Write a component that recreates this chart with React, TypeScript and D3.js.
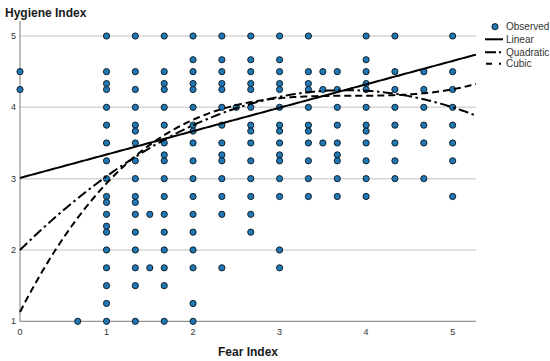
import { useEffect } from 'react';
import * as d3 from 'd3';

// Fear index columns and the observed hygiene index values found in each
const fearLevels = [0, 0.667, 1, 1.333, 1.5, 1.667, 2, 2.333, 2.5, 2.667, 3, 3.333, 3.5, 3.667, 4, 4.333, 4.667, 5];
const hygieneAt0 = [4.5, 4.25];
const hygieneAt067 = [1];
const hygieneAt1 = [5, 4.5, 4.333, 4.25, 4, 3.75, 3.5, 3.25, 3, 2.75, 2.667, 2.5, 2.333, 2.25, 2, 1.75, 1.5, 1.25, 1];
const hygieneAt133 = [5, 4.5, 4.25, 4, 3.75, 3.667, 3.5, 3.25, 3, 2.75, 2.667, 2.5, 2.25, 2, 1.75, 1.5, 1];
const hygieneAt15 = [2.5, 1.75];
const hygieneAt167 = [5, 4.5, 4.333, 4.25, 4, 3.75, 3.5, 3.333, 3.25, 3, 2.75, 2.5, 2.25, 2, 1.75, 1.5, 1];
const hygieneAt2 = [5, 4.667, 4.5, 4.333, 4.25, 4, 3.75, 3.667, 3.5, 3.25, 3, 2.75, 2.5, 2.25, 2, 1.75, 1.25, 1];
const hygieneAt233 = [5, 4.667, 4.5, 4.333, 4.25, 4, 3.75, 3.5, 3.333, 3.25, 3, 2.75, 2.5, 1.75];
const hygieneAt25 = [4];
const hygieneAt267 = [5, 4.667, 4.5, 4.333, 4.25, 4, 3.75, 3.667, 3.5, 3.25, 3, 2.75, 2.5, 2.25];
const hygieneAt3 = [5, 4.667, 4.5, 4.333, 4.25, 4, 3.75, 3.667, 3.5, 3.333, 3.25, 3, 2.75, 2, 1.75];
const hygieneAt333 = [5, 4.5, 4.333, 4.25, 4, 3.75, 3.667, 3.5, 3.25, 3, 2.75];
const hygieneAt35 = [4.5, 4.25, 3.5];
const hygieneAt367 = [4.5, 4.25, 4, 3.75, 3.5, 3.333, 3.25, 3, 2.75];
const hygieneAt4 = [5, 4.667, 4.5, 4.333, 4.25, 4, 3.75, 3.667, 3.5, 3.25, 3, 2.75];
const hygieneAt433 = [5, 4.5, 4.25, 4, 3.75, 3.5, 3.25, 3];
const hygieneAt467 = [4.5, 4.25, 4, 3.75, 3.5, 3];
const hygieneAt5 = [5, 4.5, 4.25, 4, 3.75, 3.5, 3.25, 2.75];

const hygieneColumns = [
  hygieneAt0, hygieneAt067, hygieneAt1, hygieneAt133, hygieneAt15, hygieneAt167,
  hygieneAt2, hygieneAt233, hygieneAt25, hygieneAt267, hygieneAt3, hygieneAt333,
  hygieneAt35, hygieneAt367, hygieneAt4, hygieneAt433, hygieneAt467, hygieneAt5,
];

// fitted model coefficients (constant, x, x^2, x^3)
const linearCoef = [3.01, 0.328];
const quadraticCoef = [2.0, 1.19, -0.158];
const cubicCoef = [1.13, 2.367, -0.617, 0.0537];

const xTicks = [0, 1, 2, 3, 4, 5];
const yTicks = [1, 2, 3, 4, 5];
const legendLabels = ['Observed', 'Linear', 'Quadratic', 'Cubic'];

const W = 550;
const H = 361;
const FONT = '"Liberation Sans", Arial, sans-serif';

const poly = (c: number[]) => (x: number) => c.reduce((s, k, i) => s + k * Math.pow(x, i), 0);

export default function App() {
  useEffect(() => {
    document.body.style.margin = '0';
  }, []);

  const x = d3.scaleLinear().domain([0, 5.27]).range([20, 476]);
  const y = d3.scaleLinear().domain([1, 5.21]).range([321.3, 21]);

  const points = fearLevels.flatMap((f, i) => hygieneColumns[i].map(h => ({ f, h })));

  const samples = d3.range(0, 5.27, 0.02).concat([5.27]);
  const line = (fn: (v: number) => number) =>
    d3.line<number>().x(d => x(d)).y(d => y(fn(d)))(samples) || '';

  const lines = [
    { coef: linearCoef, dash: null },
    { coef: quadraticCoef, dash: '10,3.5,2.5,3.5' },
    { coef: cubicCoef, dash: '7,4' },
  ];

  return (
    <svg width={W} height={H} style={{ position: 'absolute', left: 0, top: 0, background: '#fff' }} fontFamily={FONT}>
      <text x={5} y={17} fontSize={12} fontWeight="bold" fill="#1a1a1a">Hygiene Index</text>

      {/* gridlines */}
      {yTicks.filter(t => t > 1).map(t => (
        <line key={t} x1={x(0)} x2={x(5.27)} y1={y(t)} y2={y(t)} stroke="#d6d6d6" strokeWidth={1.5} />
      ))}

      {/* axes */}
      <line x1={x(0)} x2={x(0)} y1={y(5.21)} y2={y(1)} stroke="#7a7a7a" strokeWidth={1} />
      <line x1={x(0)} x2={x(5.27)} y1={y(1)} y2={y(1)} stroke="#7a7a7a" strokeWidth={1} />

      {yTicks.map(t => (
        <text key={t} x={16} y={y(t)} dy="0.35em" textAnchor="end" fontSize={9} fill="#333">{t}</text>
      ))}
      {xTicks.map(t => (
        <text key={t} x={x(t)} y={332} dy="0.35em" textAnchor="middle" fontSize={9} fill="#333">{t}</text>
      ))}

      <text x={248} y={356} textAnchor="middle" fontSize={12} fontWeight="bold" fill="#1a1a1a">Fear Index</text>

      {/* observed points */}
      {points.map((p, i) => (
        <circle key={i} cx={x(p.f)} cy={y(p.h)} r={3.1} fill="#1f78b4" stroke="#12202c" strokeWidth={1} />
      ))}

      {/* fit lines */}
      {lines.map((l, i) => (
        <path key={i} d={line(poly(l.coef))} fill="none" stroke="#000" strokeWidth={2}
          strokeDasharray={l.dash || undefined} />
      ))}

      {/* legend */}
      <g fontSize={10} fill="#333">
        <circle cx={495} cy={26.7} r={3.1} fill="#1f78b4" stroke="#12202c" strokeWidth={1} />
        <text x={506} y={26.7} dy="0.35em">{legendLabels[0]}</text>
        <line x1={485} x2={503} y1={39.3} y2={39.3} stroke="#000" strokeWidth={2} />
        <text x={506} y={39.3} dy="0.35em">{legendLabels[1]}</text>
        <line x1={485} x2={503} y1={52.3} y2={52.3} stroke="#000" strokeWidth={2} strokeDasharray="11,3,2,4" />
        <text x={506} y={52.3} dy="0.35em">{legendLabels[2]}</text>
        <line x1={486} x2={503} y1={63.7} y2={63.7} stroke="#000" strokeWidth={2} strokeDasharray="6,7,2,4" />
        <text x={506} y={63.7} dy="0.35em">{legendLabels[3]}</text>
      </g>
    </svg>
  );
}
